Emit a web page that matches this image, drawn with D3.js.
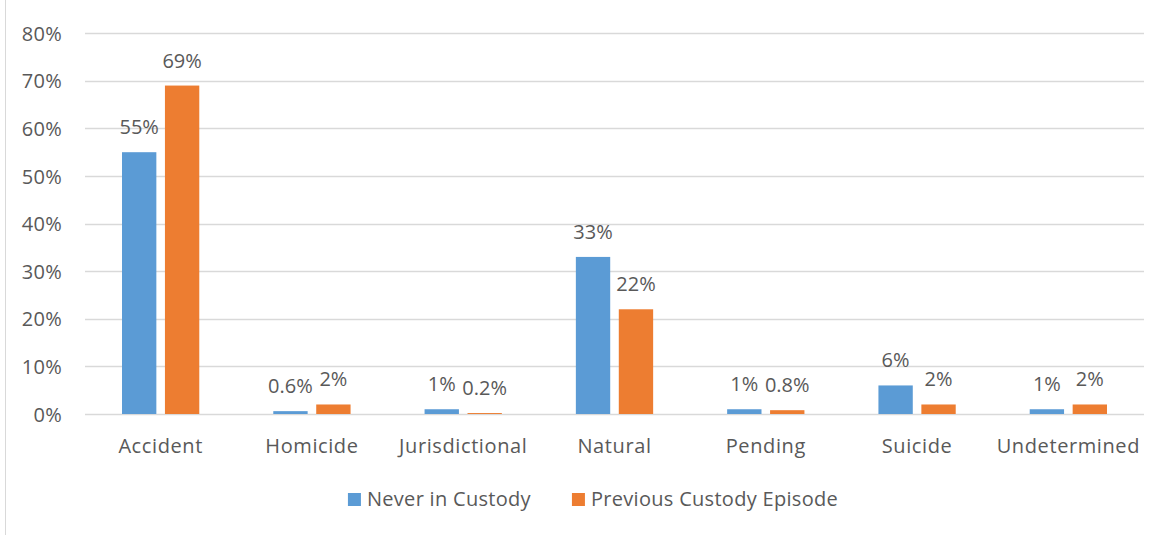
<!DOCTYPE html>
<html>
<head>
<meta charset="utf-8">
<script src="https://cdn.jsdelivr.net/npm/d3@7"></script>
<style>
  body { margin: 0; background: #fff; }
  svg text { font-family: "Open Sans", sans-serif; fill: #595959; }
</style>
</head>
<body>
<svg id="chart" width="1165" height="535"></svg>
<script>
// data
const categories = ["Accident", "Homicide", "Jurisdictional", "Natural", "Pending", "Suicide", "Undetermined"];
const seriesNames = ["Never in Custody", "Previous Custody Episode"];
const neverInCustody = [55, 0.6, 1, 33, 1, 6, 1];
const previousCustody = [69, 2, 0.2, 22, 0.8, 2, 2];
const yTicks = [0, 10, 20, 30, 40, 50, 60, 70, 80];
const colors = ["#5B9BD5", "#ED7D31"];

const seriesValues = [neverInCustody, previousCustody];

const svg = d3.select("#chart");

// faint left edge of the chart box
svg.append("line")
  .attr("x1", 5.5).attr("x2", 5.5)
  .attr("y1", 0).attr("y2", 535)
  .attr("stroke", "#d9d9d9").attr("stroke-width", 1);

const x0 = d3.scaleBand()
  .domain(categories)
  .range([85, 1144])
  .padding(0);

const x1 = d3.scaleBand()
  .domain(seriesNames)
  .range([37, x0.bandwidth() - 37])
  .paddingInner(0.2)
  .paddingOuter(0);

const y = d3.scaleLinear()
  .domain([0, 80])
  .range([414, 33.2]);

// gridlines
svg.append("g")
  .selectAll("line")
  .data(yTicks)
  .enter()
  .append("line")
  .attr("x1", 85).attr("x2", 1144)
  .attr("y1", (d) => Math.round(y(d)) + 0.5)
  .attr("y2", (d) => Math.round(y(d)) + 0.5)
  .attr("stroke", "#d9d9d9")
  .attr("stroke-width", 1.5);

// y axis labels
const yAxis = svg.append("g")
  .attr("transform", "translate(62,0)")
  .call(d3.axisLeft(y).tickValues(yTicks).tickSize(0).tickPadding(0).tickFormat((d) => d + "%"));
yAxis.select(".domain").remove();
yAxis.selectAll("text")
  .style("font-size", "20px")
  .style("letter-spacing", "0.3px")
  .attr("fill", "#595959")
  .attr("dy", "0.35em");

// x axis labels
const xAxis = svg.append("g")
  .attr("transform", "translate(0,414)")
  .call(d3.axisBottom(x0).tickSize(0).tickPadding(0));
xAxis.select(".domain").remove();
xAxis.selectAll("text")
  .style("font-size", "20px")
  .style("letter-spacing", "0.6px")
  .attr("fill", "#595959")
  .attr("y", 39)
  .attr("dy", 0);

// bars
const groups = svg.append("g")
  .selectAll("g")
  .data(categories)
  .enter()
  .append("g")
  .attr("transform", (d) => "translate(" + x0(d) + ",0)");

function fmt(v) {
  return (v < 1 ? v.toFixed(1) : Math.round(v)) + "%";
}

groups.selectAll("rect")
  .data((d, i) => seriesNames.map((s, j) => ({ s: s, v: seriesValues[j][i], c: colors[j] })))
  .enter()
  .append("rect")
  .attr("x", (d) => x1(d.s))
  .attr("y", (d) => y(d.v))
  .attr("width", x1.bandwidth())
  .attr("height", (d) => y(0) - y(d.v))
  .attr("fill", (d) => d.c);

groups.selectAll("text.lbl")
  .data((d, i) => seriesNames.map((s, j) => ({ s: s, v: seriesValues[j][i] })))
  .enter()
  .append("text")
  .attr("class", "lbl")
  .attr("x", (d) => x1(d.s) + x1.bandwidth() / 2)
  .attr("y", (d) => y(d.v) - 18)
  .attr("text-anchor", "middle")
  .style("font-size", "20px")
  .text((d) => fmt(d.v));

// legend
const legend = svg.append("g");
let lx = 0;
seriesNames.forEach(function (name, i) {
  const item = legend.append("g").attr("transform", "translate(" + lx + ",0)");
  item.append("rect")
    .attr("x", 0).attr("y", -13)
    .attr("width", 13).attr("height", 13)
    .attr("fill", colors[i]);
  const t = item.append("text")
    .attr("x", 19).attr("y", 0)
    .style("font-size", "20px")
    .style("letter-spacing", "0.3px")
    .text(name);
  lx += 19 + t.node().getComputedTextLength() + 41;
});
const legendW = lx - 41;
legend.attr("transform", "translate(" + (593 - legendW / 2) + ",506)");
</script>
</body>
</html>
